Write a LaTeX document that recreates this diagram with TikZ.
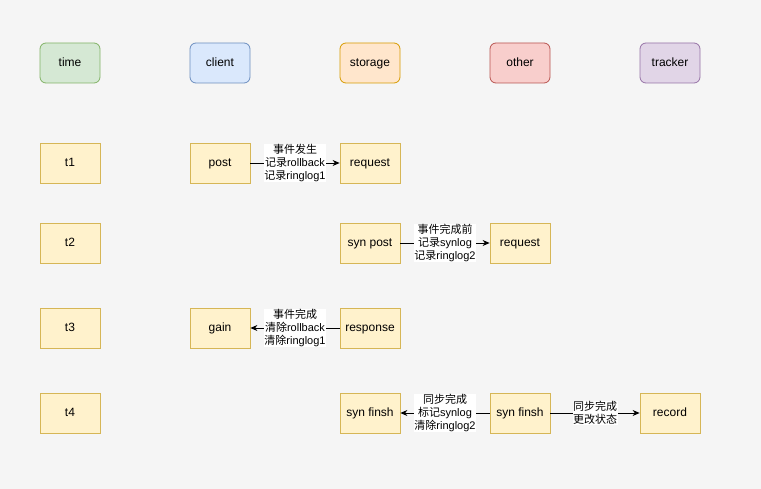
\documentclass[tikz,border=0pt]{standalone}
\usepackage{fontspec}
\setmainfont{Liberation Sans}
\newfontfamily\cjk{Noto Sans CJK SC}
\usetikzlibrary{positioning, arrows.meta}

\definecolor{bgcol}{HTML}{F5F5F5}
\definecolor{greenfill}{HTML}{D5E8D4}\definecolor{greenline}{HTML}{82B366}
\definecolor{bluefill}{HTML}{DAE8FC}\definecolor{blueline}{HTML}{6C8EBF}
\definecolor{orangefill}{HTML}{FFE6CC}\definecolor{orangeline}{HTML}{D79B00}
\definecolor{redfill}{HTML}{F8CECC}\definecolor{redline}{HTML}{B85450}
\definecolor{purplefill}{HTML}{E1D5E7}\definecolor{purpleline}{HTML}{9673A6}
\definecolor{yellowfill}{HTML}{FFF2CC}\definecolor{yellowline}{HTML}{D6B656}

\begin{document}
\begin{tikzpicture}[node distance=150pt, on grid, x=1pt, y=1pt]
		% node styles
		\tikzstyle{box} = [draw, line width=0.8pt, minimum width=60pt, minimum height=40pt, inner sep=0pt, text height=8.8pt, text depth=2.6pt, font=\fontsize{12}{14}\selectfont]
		\tikzstyle{head} = [box, rounded corners=6pt]
		\tikzstyle{evt} = [box, fill=yellowfill, draw=yellowline]
		\tikzstyle{lbl} = [fill=white, align=center, inner sep=0.5pt, font=\fontsize{11}{12.8}\selectfont]
		\tikzstyle{flow} = [line width=0.8pt, -{Stealth[length=7pt,width=6pt]}]
		
		\useasboundingbox [fill=bgcol] (0,0) rectangle (761,-489);
		
		% header row
		\node [head, fill=greenfill, draw=greenline] (time) at (70,-63) {time};
		\node [head, fill=bluefill, draw=blueline, right=of time] (client) {client};
		\node [head, fill=orangefill, draw=orangeline, right=of client] (storage) {storage};
		\node [head, fill=redfill, draw=redline, right=of storage] (other) {other};
		\node [head, fill=purplefill, draw=purpleline, right=of other] (tracker) {tracker};
		
		% time steps
		\node [evt, below=100pt of time] (t1) {t1};
		\node [evt, below=80pt of t1] (t2) {t2};
		\node [evt, below=85pt of t2] (t3) {t3};
		\node [evt, below=85pt of t3] (t4) {t4};
		
		% events
		\node [evt] (post) at (client|-t1) {post};
		\node [evt] (request) at (storage|-t1) {request};
		\node [evt] (synpost) at (storage|-t2) {syn post};
		\node [evt] (request2) at (other|-t2) {request};
		\node [evt] (gain) at (client|-t3) {gain};
		\node [evt] (response) at (storage|-t3) {response};
		\node [evt] (synfinsh) at (storage|-t4) {syn finsh};
		\node [evt] (synfinsh2) at (other|-t4) {syn finsh};
		\node [evt] (record) at (tracker|-t4) {record};
		
		% messages
		\draw [flow] (post) -- node[lbl] {{\cjk 事件发生}\\{\cjk 记录}rollback\\{\cjk 记录}ringlog1} (request);
		\draw [flow] (synpost) -- node[lbl] {{\cjk 事件完成前}\\{\cjk 记录}synlog\\{\cjk 记录}ringlog2} (request2);
		\draw [flow] (response) -- node[lbl] {{\cjk 事件完成}\\{\cjk 清除}rollback\\{\cjk 清除}ringlog1} (gain);
		\draw [flow] (synfinsh2) -- node[lbl] {{\cjk 同步完成}\\{\cjk 标记}synlog\\{\cjk 清除}ringlog2} (synfinsh);
		\draw [flow] (synfinsh2) -- node[lbl] {{\cjk 同步完成}\\{\cjk 更改状态}} (record);
\end{tikzpicture}
\end{document}
